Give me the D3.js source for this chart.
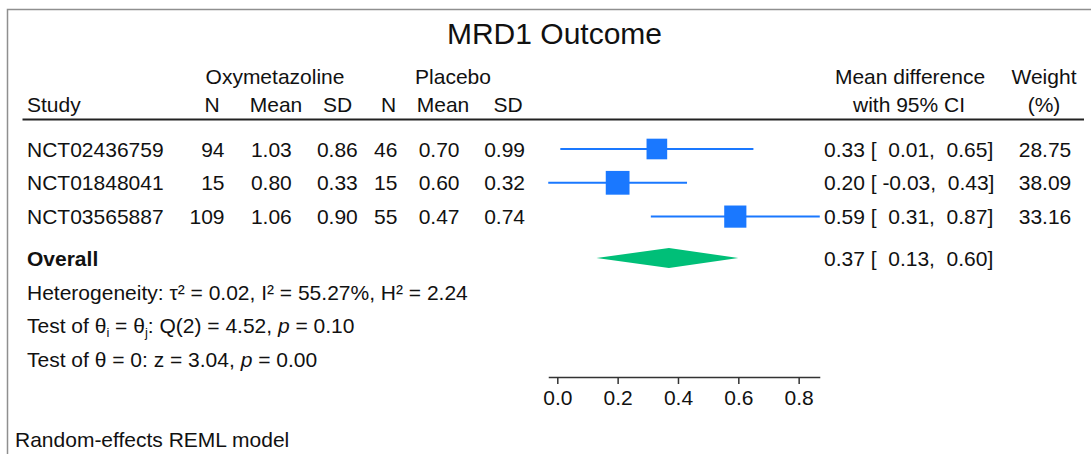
<!DOCTYPE html>
<html>
<head>
<meta charset="utf-8">
<script src="https://cdn.jsdelivr.net/npm/d3@7/dist/d3.min.js"></script>
<style>
  html, body { margin: 0; padding: 0; background: #fff; }
  svg { display: block; }
  text { font-family: "Liberation Sans", Arial, Helvetica, sans-serif; fill: #111; }
</style>
</head>
<body>
<svg id="chart" width="1091" height="454"></svg>
<script>
// ---------- data ----------
const studies   = ["NCT02436759", "NCT01848041", "NCT03565887"];
const oxyN      = [94, 15, 109];
const oxyMean   = [1.03, 0.80, 1.06];
const oxySD     = [0.86, 0.33, 0.90];
const plaN      = [46, 15, 55];
const plaMean   = [0.70, 0.60, 0.47];
const plaSD     = [0.99, 0.32, 0.74];
const meanDiff  = [0.33, 0.20, 0.59];
const ciLow     = [0.01, -0.03, 0.31];
const ciHigh    = [0.65, 0.43, 0.87];
const weights   = [28.75, 38.09, 33.16];
const overallEst = [0.37, 0.13, 0.60];   // estimate, low, high
const tickValues = [0.0, 0.2, 0.4, 0.6, 0.8];
const title = "MRD1 Outcome";

// ---------- layout ----------
const svg = d3.select("#chart");
const FS = 21;
const blue = "#1a78ff", green = "#00bf78";

// outer frame (top + left visible)
svg.append("rect").attr("x", 7.5).attr("y", 9.5).attr("width", 1200).attr("height", 600)
  .attr("fill", "none").attr("stroke", "#8f8f8f").attr("stroke-width", 1.5);

// title
svg.append("text").attr("x", 554.5).attr("y", 43.5).attr("text-anchor", "middle")
  .style("font-size", "30px").text(title);

// x scale for effect sizes
const x = d3.scaleLinear()
  .domain([d3.min(ciLow), d3.max(ciHigh)])
  .range([557.3 + 301.7 * d3.min(ciLow), 557.3 + 301.7 * d3.max(ciHigh)]);

// row positions
const y = d3.scaleLinear().domain([0, 1]).range([149, 182.8]);

// column definitions
const colRight  = [224.5, 291.8, 357.8, 397.4, 459.5, 525];
const colCenter = [212, 276, 337.6, 388.6, 443, 508];
const colHeads  = ["N", "Mean", "SD", "N", "Mean", "SD"];
const colData   = [oxyN, oxyMean, oxySD, plaN, plaMean, plaSD];
const colFmt    = [d3.format("d"), v => v.toFixed(2), v => v.toFixed(2), d3.format("d"), v => v.toFixed(2), v => v.toFixed(2)];

// headers
const hdr1 = 83.5, hdr2 = 111.5;
svg.append("text").attr("x", 275).attr("y", hdr1).attr("text-anchor", "middle").style("font-size", FS + "px").text("Oxymetazoline");
svg.append("text").attr("x", 453).attr("y", hdr1).attr("text-anchor", "middle").style("font-size", FS + "px").text("Placebo");
svg.append("text").attr("x", 910).attr("y", hdr1).attr("text-anchor", "middle").style("font-size", FS + "px").text("Mean difference");
svg.append("text").attr("x", 909).attr("y", hdr2).attr("text-anchor", "middle").style("font-size", FS + "px").text("with 95% CI");
svg.append("text").attr("x", 1044).attr("y", hdr1).attr("text-anchor", "middle").style("font-size", FS + "px").text("Weight");
svg.append("text").attr("x", 1044).attr("y", hdr2).attr("text-anchor", "middle").style("font-size", FS + "px").text("(%)");
svg.append("text").attr("x", 27).attr("y", hdr2).style("font-size", FS + "px").text("Study");
colHeads.forEach((h, j) => {
  svg.append("text").attr("x", colCenter[j]).attr("y", hdr2).attr("text-anchor", "middle")
    .style("font-size", FS + "px").text(h);
});

// header rule
svg.append("line").attr("x1", 22.5).attr("x2", 1084).attr("y1", 119.5).attr("y2", 119.5)
  .attr("stroke", "#222").attr("stroke-width", 2);

// study rows
const base = 7.5;
studies.forEach((s, i) => {
  const yy = y(i) + base;
  svg.append("text").attr("x", 27).attr("y", yy).style("font-size", FS + "px").text(s);
  colData.forEach((arr, j) => {
    svg.append("text").attr("x", colRight[j]).attr("y", yy).attr("text-anchor", "end")
      .style("font-size", FS + "px").text(colFmt[j](arr[i]));
  });
});

const pad = v => v.toFixed(2).padStart(6, " ");
const ciText = (m, l, h) => `${m.toFixed(2)} [${pad(l)},${pad(h)}]`;

// effect text + weight
studies.forEach((s, i) => {
  const yy = y(i) + base;
  svg.append("text").attr("x", 824).attr("y", yy).attr("xml:space", "preserve")
    .style("white-space", "pre").style("font-size", FS + "px")
    .text(ciText(meanDiff[i], ciLow[i], ciHigh[i]));
  svg.append("text").attr("x", 1045).attr("y", yy).attr("text-anchor", "middle")
    .style("font-size", FS + "px").text(weights[i].toFixed(2));
});

// CI lines and squares
const sq = w => 3.85 * Math.sqrt(w);
const g = svg.append("g");
g.selectAll("line.ci").data(studies).join("line").attr("class", "ci")
  .attr("x1", (d, i) => x(ciLow[i])).attr("x2", (d, i) => x(ciHigh[i]))
  .attr("y1", (d, i) => y(i)).attr("y2", (d, i) => y(i))
  .attr("stroke", blue).attr("stroke-width", 2);
g.selectAll("rect.sq").data(studies).join("rect").attr("class", "sq")
  .attr("x", (d, i) => x(meanDiff[i]) - sq(weights[i]) / 2)
  .attr("y", (d, i) => y(i) - sq(weights[i]) / 2)
  .attr("width", (d, i) => sq(weights[i])).attr("height", (d, i) => sq(weights[i]))
  .attr("fill", blue);

// overall
const yO = 258;
svg.append("text").attr("x", 27).attr("y", yO + base).style("font-size", FS + "px")
  .style("font-weight", "bold").text("Overall");
svg.append("path")
  .attr("d", `M${x(overallEst[1])},${yO} L${x(overallEst[0])},${yO - 10} L${x(overallEst[2])},${yO} L${x(overallEst[0])},${yO + 10} Z`)
  .attr("fill", green);
svg.append("text").attr("x", 824).attr("y", yO + base).attr("xml:space", "preserve")
  .style("white-space", "pre").style("font-size", FS + "px")
  .text(ciText(overallEst[0], overallEst[1], overallEst[2]));

// heterogeneity and tests
const t1 = svg.append("text").attr("x", 27).attr("y", 299.5).style("font-size", FS + "px");
t1.text("Heterogeneity: τ² = 0.02, I² = 55.27%, H² = 2.24");

const t2 = svg.append("text").attr("x", 27).attr("y", 333.3).style("font-size", FS + "px");
t2.append("tspan").text("Test of θ");
t2.append("tspan").attr("dy", 4).style("font-size", "13px").text("i");
t2.append("tspan").attr("dy", -4).text(" = θ");
t2.append("tspan").attr("dy", 4).style("font-size", "13px").text("j");
t2.append("tspan").attr("dy", -4).text(": Q(2) = 4.52, ");
t2.append("tspan").style("font-style", "italic").text("p");
t2.append("tspan").text(" = 0.10");

const t3 = svg.append("text").attr("x", 27).attr("y", 367).style("font-size", FS + "px");
t3.append("tspan").text("Test of θ = 0: z = 3.04, ");
t3.append("tspan").style("font-style", "italic").text("p");
t3.append("tspan").text(" = 0.00");

// axis
const axis = d3.axisBottom(x).tickValues(tickValues).tickFormat(d3.format(".1f"))
  .tickSize(7).tickSizeOuter(0).tickPadding(6);
const ax = svg.append("g").attr("transform", "translate(0,377)").call(axis);
ax.select(".domain").attr("stroke", "#333").attr("stroke-width", 1.5);
ax.selectAll(".tick line").attr("stroke", "#333").attr("stroke-width", 1.5);
ax.selectAll(".tick text").style("font-size", FS + "px")
  .style("font-family", "'Liberation Sans', Arial, sans-serif").attr("fill", "#111");

// footnote
svg.append("text").attr("x", 15).attr("y", 446.5).style("font-size", FS + "px").text("Random-effects REML model");
</script>
</body>
</html>
